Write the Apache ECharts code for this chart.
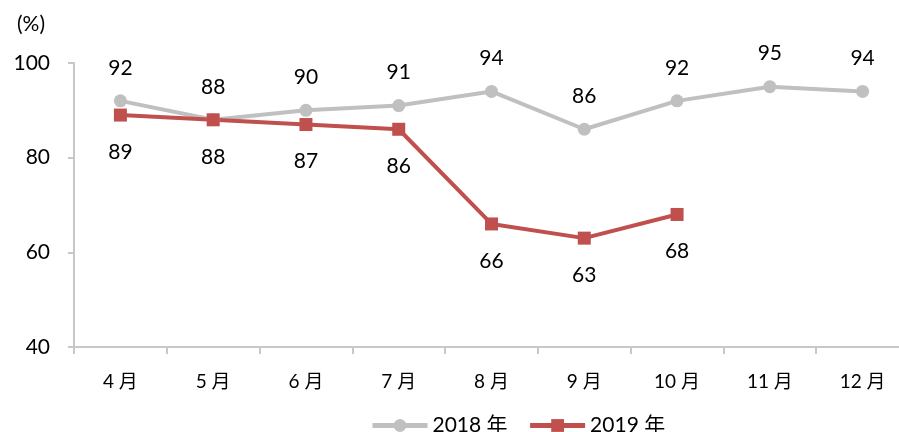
<!DOCTYPE html>
<html>
<head>
<meta charset="utf-8">
<script src="https://cdn.jsdelivr.net/npm/echarts@6/dist/echarts.min.js"></script>
<style>
  html, body { margin: 0; padding: 0; background: #fff; }
  #chart { width: 899px; height: 432px; }
</style>
</head>
<body>
<div id="chart"></div>
<script>
var months = ['4 月', '5 月', '6 月', '7 月', '8 月', '9 月', '10 月', '11 月', '12 月'];
var rate2018 = [92, 88, 90, 91, 94, 86, 92, 95, 94];
var rate2019 = [89, 88, 87, 86, 66, 63, 68];
var yTicks = { min: 40, max: 100, step: 20 };

var font = 'Lato, "Noto Sans CJK SC", sans-serif';
var axisColor = '#c8c8c8';

var chart = echarts.init(document.getElementById('chart'));
chart.setOption({
  animation: false,
  textStyle: { fontFamily: font },
  graphic: [{
    type: 'text',
    left: 17,
    top: 14,
    style: { text: '(%)', font: '21px ' + font, fill: '#000' }
  }],
  legend: {
    left: 365,
    top: 410,
    itemWidth: 55,
    itemHeight: 16,
    itemGap: 20,
    lineStyle: { width: 5 },
    textStyle: { fontFamily: font, fontSize: 21, color: '#000' },
    data: ['2018 年', '2019 年']
  },
  grid: { left: 74, top: 63, width: 835, height: 284, outerBoundsMode: 'none' },
  xAxis: {
    type: 'category',
    data: months,
    boundaryGap: true,
    axisLine: { lineStyle: { color: axisColor, width: 2 } },
    axisTick: { show: true, length: 7, lineStyle: { color: axisColor, width: 2 } },
    axisLabel: { color: '#000', fontSize: 19, margin: 25, fontFamily: font }
  },
  yAxis: {
    type: 'value',
    min: yTicks.min,
    max: yTicks.max,
    interval: yTicks.step,
    axisLine: { show: true, lineStyle: { color: axisColor, width: 2 } },
    axisTick: { show: true, length: 6, lineStyle: { color: axisColor, width: 2 } },
    splitLine: { show: false },
    axisLabel: { color: '#000', fontSize: 21, margin: 24, fontFamily: font }
  },
  series: [
    {
      name: '2018 年',
      type: 'line',
      data: rate2018,
      symbol: 'circle',
      symbolSize: 13,
      lineStyle: { color: '#c0c0c0', width: 4 },
      itemStyle: { color: '#c0c0c0' },
      label: { show: true, position: 'top', distance: 16, fontSize: 21, color: '#000', fontFamily: font }
    },
    {
      name: '2019 年',
      type: 'line',
      data: rate2019,
      symbol: 'rect',
      symbolSize: 13,
      lineStyle: { color: '#c0504d', width: 4 },
      itemStyle: { color: '#c0504d' },
      label: { show: true, position: 'bottom', distance: 20, fontSize: 21, color: '#000', fontFamily: font }
    }
  ]
});
</script>
</body>
</html>
